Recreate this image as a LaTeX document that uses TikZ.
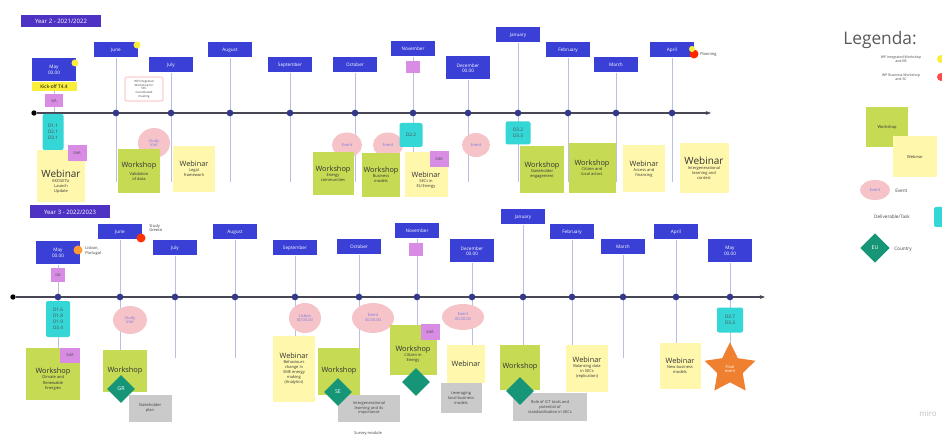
\documentclass[tikz,border=0pt]{standalone}
\usepackage{fontspec}
\setmainfont{Open Sans}
\usetikzlibrary{shapes.geometric,arrows.meta}
\definecolor{mblue}{RGB}{58,64,214}
\definecolor{ttl}{RGB}{78,50,196}
\definecolor{stgreen}{RGB}{198,218,84}
\definecolor{styellow}{RGB}{255,248,172}
\definecolor{evpink}{RGB}{246,196,200}
\definecolor{dcyan}{RGB}{52,214,214}
\definecolor{tpurple}{RGB}{216,140,228}
\definecolor{ctry}{RGB}{22,150,118}
\definecolor{gbox}{RGB}{202,202,202}
\definecolor{starc}{RGB}{238,128,48}
\definecolor{vline}{RGB}{186,190,226}
\definecolor{dotc}{RGB}{52,56,140}
\definecolor{tline}{RGB}{70,70,85}
\definecolor{kick}{RGB}{250,238,60}
\definecolor{txtg}{RGB}{90,90,90}
\newcommand{\stkh}[1]{{\fontsize{5.5}{6}\selectfont #1}}
\newcommand{\stkH}[1]{{\fontsize{7.5}{8}\selectfont #1}}
\newcommand{\stks}[1]{{\fontsize{3}{3.6}\selectfont #1}}
\newcommand{\dn}[1]{\rule{0pt}{#1pt}}
\tikzset{
 sz/.style 2 args={minimum width=#1*0.75pt, minimum height=#2*0.75pt},
 month/.style={fill=mblue, text=white, font=\fontsize{3.5}{4}\selectfont, align=center, minimum width=33pt, inner sep=0pt},
 ttlbox/.style={fill=ttl, text=white, font=\fontsize{4.5}{5}\selectfont, inner sep=0pt},
 vl/.style={draw=vline, line width=0.5pt},
 tl/.style={draw=tline, line width=1.1pt, -{Stealth[length=4pt]}},
 mdot/.style={circle, fill=dotc, minimum size=5pt, inner sep=0pt},
 sdot/.style={circle, fill=black, minimum size=4pt, inner sep=0pt},
 gst/.style={fill=stgreen, align=center, inner sep=1pt, text=black!80, font=\fontsize{3}{3.8}\selectfont},
 yst/.style={fill=styellow, align=center, inner sep=1pt, text=black!80, font=\fontsize{3}{3.8}\selectfont},
 ev/.style={ellipse, fill=evpink, align=center, inner sep=0pt, text=mblue!70, font=\fontsize{3}{3.6}\selectfont},
 dl/.style={fill=dcyan, rounded corners=1.5pt, align=center, inner sep=0pt, text=black!70, font=\fontsize{3.5}{4.5}\selectfont},
 tk/.style={fill=tpurple, align=center, inner sep=0pt, text=black!70, font=\fontsize{3}{4}\selectfont},
 ct/.style={diamond, fill=ctry, text=white, inner sep=0pt, minimum size=21pt, font=\fontsize{4}{5}\selectfont},
 gb/.style={fill=gbox, align=center, inner sep=0pt, text=black!75, font=\fontsize{3}{3.6}\selectfont},
 lbl/.style={align=center, inner sep=0pt, text=black!75, font=\fontsize{3}{3.6}\selectfont},
 pin/.style={circle, inner sep=0pt, minimum size=#1*0.75pt},
}
\begin{document}
\begin{tikzpicture}[x=0.75pt, y=-0.75pt]
\useasboundingbox (0,0) rectangle (942,438);
\clip (0,0) rectangle (942,438);
\fill[white] (0,0) rectangle (942,438);

% ---------- YEAR 2 ----------
\node[ttlbox, sz={80}{12}] (t2) at (61,21) {Year 2 - 2021/2022};
\foreach \n/\x/\y/\h/\t in {a/54/70/23/{May\\00.00}, b/116/50/15/June, c/171/65/15/July, d/230/50/15/August, e/290/65/15/September, f/355/65/15/October, g/413/49/15/November, h/468/68/23/{December\\00.00}, i/518/35/15/January, j/568/50/15/February, k/616/65/15/March, l/672/50/15/April}{
  \node[month, minimum height=\h*0.75pt] (y2\n) at (\x,\y) {\t};
  \coordinate (y2e\n) at (\x,182);
  \draw[vl] (y2\n.south) -- (y2e\n);
}
\node[sdot] (y2s) at (34,113) {};
\coordinate (y2t) at (711,113);
\draw[tl] (y2s) -- (y2t);
\foreach \n/\x in {b/116, c/171, d/230, e/290, f/355, g/413, h/468, i/518, j/568, k/616, l/672}{
  \node[mdot] (y2d\n) at (\x,113) {};
}
% pins on month boxes
\node[pin=7, fill=kick] (p2a) at (75,63) {};
\node[pin=7, fill=kick] (p2b) at (137,45) {};
\node[pin=9, fill=red!70!orange] (p2l) at (694,54) {};
\node[pin=6, fill=kick] (p2l2) at (692,49) {};
\node[lbl, anchor=west] (p2lt) at (700,54) {Planning};

\node[fill=kick, inner sep=0pt, sz={45}{9}, font=\fontsize{3.6}{4}\selectfont] (kick2) at (54,87) {Kick-off T4.4};
\node[tk, sz={18}{13}] (ga2) at (54,101) {GA};
\node[draw=red!35, fill=white, rounded corners=1pt, lbl, sz={38}{24}, font=\fontsize{2.2}{2.8}\selectfont] (note2) at (144,89) {WP Integrated\\Workshop for\\SEC\\Coordinated\\meeting};
\node[dl, sz={21}{36}] (d2a) at (53,132) {D1.1\\D2.1\\D3.1};
\node[yst, sz={48}{52}] (w2a) at (61,176) {\stkH{\dn{14}Webinar}\\\stks{EKOSETU}\\\stks{Launch}\\\stks{Update}};
\node[tk, sz={19}{16}] (sa2a) at (77,153) {SdA};
\node[ev, sz={32}{30}] (e2b) at (154,143) {Study\\Visit};
\node[gst, sz={42}{44}] (w2b) at (139,171) {\stkh{Workshop}\\[2pt]\stks{Validation}\\\stks{of data}};
\node[yst, sz={42}{46}] (w2c) at (194,169) {\stkh{Webinar}\\\stks{Legal}\\\stks{framework}};
\node[ev, sz={30}{25}] (e2f1) at (347,145) {Event};
\node[ev, sz={30}{25}] (e2f2) at (388,145) {Event};
\node[gst, sz={41}{43}] (w2f1) at (333,174) {\stkh{Workshop}\\\stks{Energy}\\\stks{communities}};
\node[gst, sz={38}{44}] (w2f2) at (381,175) {\stkh{Workshop}\\\stks{Business}\\\stks{models}};
\node[dl, sz={23}{24}] (d2g) at (411,135) {D2.2};
\node[yst, sz={43}{45}] (w2g) at (426,175) {\stkh{\dn{12}Webinar}\\\stks{SECs in}\\\stks{EU Energy}};
\node[tk, sz={19}{16}] (sa2g) at (439,159) {SdA};
\node[tk, sz={14}{12}] (t2g) at (413,67) {};
\node[ev, sz={28}{24}] (e2h) at (476,145) {Event};
\node[dl, sz={25}{23}] (d2i) at (518,133) {D3.2\\D3.3};
\node[gst, sz={44}{47}] (w2i) at (542,170) {\stkh{Workshop}\\\stks{Stakeholder}\\\stks{engagement}};
\node[gst, sz={47}{50}] (w2j) at (592,168) {\stkh{Workshop}\\\stks{Citizen and}\\\stks{local actors}};
\node[yst, sz={42}{47}] (w2k) at (644,169) {\stkh{Webinar}\\\stks{Access and}\\\stks{financing}};
\node[yst, sz={49}{50}] (w2l) at (704,168) {\stkH{Webinar}\\\stks{Intergenerational}\\\stks{learning and}\\\stks{contest}};

% ---------- YEAR 3 ----------
\node[ttlbox, sz={80}{13}] (t3) at (70,212) {Year 3 - 2022/2023};
\foreach \n/\x/\y/\h/\t in {a/58/253/23/{May\\00.00}, b/120/232/15/June, c/175/248/15/July, d/235/232/15/August, e/295/248/15/September, f/359/247/15/October, g/417/231/15/November, h/472/251/23/{December\\00.00}, i/523/217/15/January, j/572/232/15/February, k/623/247/15/March, l/676/232/15/April, m/730/251/23/{May\\00.00}}{
  \node[month, minimum height=\h*0.75pt] (y3\n) at (\x,\y) {\t};
  \coordinate (y3e\n) at (\x,358);
  \draw[vl] (y3\n.south) -- (y3e\n);
}
\node[sdot] (y3s) at (13,297) {};
\coordinate (y3t) at (765,297);
\draw[tl] (y3s) -- (y3t);
\foreach \n/\x in {a/58, b/120, c/175, d/235, e/295, f/359, g/417, h/472, i/523, j/572, k/623, l/676, m/730}{
  \node[mdot] (y3d\n) at (\x,297) {};
}
\node[pin=9, fill=orange!80] (p3a) at (78,250) {};
\node[lbl, align=left, anchor=west] (p3at) at (85,251) {Lisbon,\\Portugal};
\node[pin=9, fill=red!60!orange] (p3b) at (141,238) {};
\node[lbl, align=left, anchor=west] (p3bt) at (149,228) {Study\\Greece};

\node[tk, sz={14}{14}] (ga3) at (58,275) {GA};
\node[tk, sz={14}{13}] (t3g) at (416,250) {};
\node[dl, sz={24}{36}] (d3a) at (58,319) {D1.6\\D1.8\\D1.9\\D3.4};
\node[gst, sz={54}{52}] (w3a) at (53,374) {\stkh{\dn{12}Workshop}\\\stks{Climate and}\\\stks{Renewable}\\\stks{Energies}};
\node[tk, sz={20}{15}] (sa3a) at (70,355) {SdA};
\node[ev, sz={34}{28}] (e3b) at (130,320) {Study\\Visit};
\node[gst, sz={44}{42}] (w3b) at (125,371) {\stkh{Workshop}};
\node[gb, sz={43}{27}] (g3b) at (150,408) {Stakeholder\\plan};
\node[ct] (c3b) at (121,389) {GR};
\node[ev, sz={32}{30}] (e3e) at (305,318) {Lisbon\\00.00.00};
\node[yst, sz={42}{66}] (w3e) at (294,369) {\stkh{Webinar}\\\stks{Behaviours}\\\stks{change in}\\\stks{SME energy}\\\stks{making}\\\stks{(Analytics)}};
\node[ev, sz={42}{30}] (e3f) at (373,318) {Event\\00.00.00};
\node[gst, sz={42}{47}] (w3f) at (339,371) {\stkh{Workshop}};
\node[gb, sz={62}{27}] (g3f) at (369,408) {Intergenerational\\learning and its\\importance};
\node[ct] (c3f) at (338,392) {SE};
\node[lbl] (s3f) at (368,433) {Survey module};
\node[gst, sz={47}{50}] (w3g) at (413,350) {\stkh{\dn{10}Workshop}\\\stks{Citizen in}\\\stks{Energy}};
\node[tk, sz={19}{16}] (sa3g) at (430,332) {SdA};
\node[ct] (c3g) at (416,382) {};
\node[ev, sz={42}{26}] (e3h) at (463,317) {Event\\00.00.00};
\node[yst, sz={38}{38}] (w3h) at (466,364) {\stkh{Webinar}};
\node[gb, sz={41}{30}] (g3h) at (461,398) {Leveraging\\local business\\models};
\node[gst, sz={40}{45}] (w3i) at (520,367) {\stkh{Workshop}};
\node[gb, sz={74}{28}] (g3i) at (550,407) {Role of ICT tools and\\potential of\\standardisation in SECs};
\node[ct] (c3i) at (520,391) {};
\node[yst, sz={42}{47}] (w3j) at (587,368) {\stkh{Webinar}\\\stks{Balancing data}\\\stks{in SECs}\\\stks{(replication)}};
\node[yst, sz={41}{46}] (w3l) at (680,366) {\stkh{Webinar}\\\stks{New business}\\\stks{models}};
\node[dl, sz={26}{25}] (d3m) at (730,320) {D3.7\\D3.3};
\node[star, star points=5, star point ratio=2, fill=starc, minimum size=40pt, inner sep=0pt, text=white, align=center, font=\fontsize{3}{3.6}\selectfont] (fe) at (730,369) {Final\\event};

% ---------- LEGEND ----------
\node[text=txtg, inner sep=0pt, font=\fontsize{13}{14}\selectfont] (leg) at (880,40) {Legenda:};
\node[lbl, font=\fontsize{2.6}{3.2}\selectfont] (lg1) at (901,59) {WP Integrated Workshop\\and EB};
\node[pin=8, fill=kick] (lgp1) at (941,59) {};
\node[lbl, font=\fontsize{2.6}{3.2}\selectfont] (lg2) at (901,77) {WP Business Workshop\\and SC};
\node[pin=8, fill=red!70] (lgp2) at (941,77) {};
\node[gst, sz={42}{40}] (lgw) at (887,127) {\stks{Workshop}};
\node[yst, sz={44}{41}] (lgy) at (915,157) {\stks{Webinar}};
\node[ev, sz={30}{20}] (lge) at (875,190) {Event};
\node[lbl, anchor=west, font=\fontsize{3.5}{4}\selectfont] (lget) at (895,191) {Event};
\node[lbl, font=\fontsize{3.5}{4}\selectfont] (lgd) at (892,217) {Deliverable/Task};
\node[dl, sz={14}{20}] (lgdb) at (941,217) {};
\node[ct, minimum size=22pt] (lgc) at (875,248) {EU};
\node[lbl, anchor=west, font=\fontsize{3.5}{4}\selectfont] (lgct) at (894,249) {Country};
\node[text=black!25, inner sep=0pt, font=\fontsize{6}{7}\selectfont] (miro) at (928,414) {miro};
\end{tikzpicture}
\end{document}
